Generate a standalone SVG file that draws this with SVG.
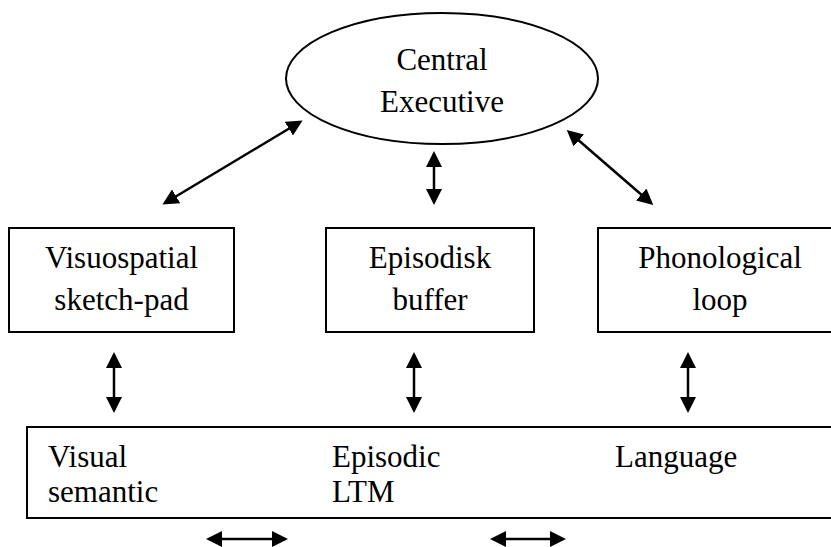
<svg xmlns="http://www.w3.org/2000/svg" width="831" height="547" viewBox="0 0 831 547">
<style>
.t{font-family:"Liberation Serif","Times New Roman",serif;font-size:31px;fill:#000}
.c{text-anchor:middle}
.box{fill:#fff;stroke:#000;stroke-width:2}
.ln{stroke:#000;stroke-width:2.5;fill:none;marker-start:url(#ah);marker-end:url(#ah)}
</style>
<defs>
<marker id="ah" markerUnits="userSpaceOnUse" markerWidth="16" markerHeight="16" viewBox="0 0 16 16" refX="13" refY="8" orient="auto-start-reverse">
<path d="M0,0 L16,8 L0,16 z" fill="#000"/>
</marker>
</defs>
<rect width="831" height="547" fill="#fff"/>
<g id="central-executive">
<ellipse cx="442" cy="78.5" rx="156" ry="65.5" fill="#fff" stroke="#000" stroke-width="2"/>
<text class="t c" x="442" y="70">Central</text>
<text class="t c" x="442" y="112">Executive</text>
</g>
<g id="visuospatial">
<rect class="box" x="9" y="228" width="225" height="104"/>
<text class="t c" x="121.5" y="268">Visuospatial</text>
<text class="t c" x="121.5" y="310">sketch-pad</text>
</g>
<g id="episodisk-buffer">
<rect class="box" x="326" y="228" width="208" height="104"/>
<text class="t c" x="430" y="268">Episodisk</text>
<text class="t c" x="430" y="310">buffer</text>
</g>
<g id="phonological-loop">
<rect class="box" x="598" y="228" width="245" height="104"/>
<text class="t c" x="720" y="268">Phonological</text>
<text class="t c" x="720" y="310">loop</text>
</g>
<g id="ltm">
<rect class="box" x="27" y="427" width="820" height="91"/>
<text class="t" x="48" y="467">Visual</text>
<text class="t" x="48" y="502">semantic</text>
<text class="t" x="332" y="467">Episodic</text>
<text class="t" x="332" y="502">LTM</text>
<text class="t" x="615" y="467">Language</text>
</g>
<g id="connectors">
<line class="ln" x1="165" y1="203" x2="300" y2="122"/>
<line class="ln" x1="434" y1="154" x2="434" y2="202"/>
<line class="ln" x1="569" y1="132" x2="651" y2="203"/>
<line class="ln" x1="114" y1="355" x2="114" y2="410"/>
<line class="ln" x1="414" y1="355" x2="414" y2="410"/>
<line class="ln" x1="688" y1="355" x2="688" y2="410"/>
<line class="ln" x1="209" y1="539" x2="285" y2="539"/>
<line class="ln" x1="493" y1="539" x2="563" y2="539"/>
</g>
</svg>
